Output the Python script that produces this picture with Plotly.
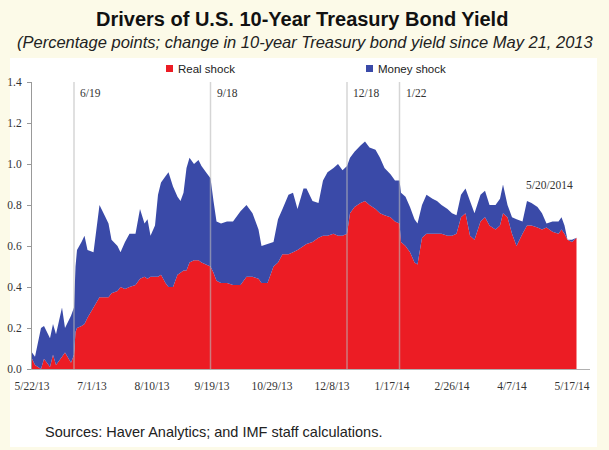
import plotly.graph_objects as go

# ---- data ----
dates = [
    "2013-05-22", "2013-05-24", "2013-05-28", "2013-05-30", "2013-06-03", "2013-06-05",
    "2013-06-07", "2013-06-11", "2013-06-13", "2013-06-17", "2013-06-19", "2013-06-20",
    "2013-06-21", "2013-06-24", "2013-06-26", "2013-06-28", "2013-07-02", "2013-07-06",
    "2013-07-10", "2013-07-12", "2013-07-14", "2013-07-18", "2013-07-20", "2013-07-23",
    "2013-07-26", "2013-07-30", "2013-08-02", "2013-08-05", "2013-08-07", "2013-08-09",
    "2013-08-12", "2013-08-14", "2013-08-16", "2013-08-19", "2013-08-21", "2013-08-24",
    "2013-08-27", "2013-08-29", "2013-08-31", "2013-09-02", "2013-09-04", "2013-09-07",
    "2013-09-10", "2013-09-12", "2013-09-15", "2013-09-18", "2013-09-20", "2013-09-22",
    "2013-09-25", "2013-09-29", "2013-10-03", "2013-10-08", "2013-10-12", "2013-10-16",
    "2013-10-20", "2013-10-22", "2013-10-26", "2013-10-30", "2013-11-02", "2013-11-05",
    "2013-11-09", "2013-11-12", "2013-11-15", "2013-11-19", "2013-11-21", "2013-11-25",
    "2013-11-29", "2013-12-02", "2013-12-05", "2013-12-09", "2013-12-12", "2013-12-15",
    "2013-12-18", "2013-12-20", "2013-12-23", "2013-12-27", "2013-12-30", "2014-01-02",
    "2014-01-06", "2014-01-09", "2014-01-12", "2014-01-16", "2014-01-19", "2014-01-22",
    "2014-01-23", "2014-01-26", "2014-01-29", "2014-02-01", "2014-02-03", "2014-02-06",
    "2014-02-09", "2014-02-13", "2014-02-16", "2014-02-19", "2014-02-23", "2014-02-26",
    "2014-03-01", "2014-03-04", "2014-03-07", "2014-03-10", "2014-03-13", "2014-03-17",
    "2014-03-20", "2014-03-23", "2014-03-27", "2014-03-30", "2014-04-01", "2014-04-04",
    "2014-04-07", "2014-04-10", "2014-04-14", "2014-04-17", "2014-04-20", "2014-04-24",
    "2014-04-27", "2014-04-30", "2014-05-04", "2014-05-08", "2014-05-10", "2014-05-12",
    "2014-05-14", "2014-05-17", "2014-05-20",
]

real_shock = [
    0.05, 0.02, 0.00, 0.05, 0.01, 0.07,
    0.02, 0.06, 0.08, 0.03, 0.07, 0.18,
    0.20, 0.21, 0.22, 0.25, 0.30, 0.35,
    0.35, 0.35, 0.37, 0.38, 0.40, 0.39,
    0.40, 0.41, 0.44, 0.45, 0.44, 0.45,
    0.45, 0.45, 0.46, 0.42, 0.40, 0.40,
    0.46, 0.47, 0.48, 0.48, 0.52, 0.53,
    0.53, 0.52, 0.51, 0.50, 0.47, 0.43,
    0.42, 0.42, 0.41, 0.41, 0.45, 0.45,
    0.44, 0.42, 0.42, 0.50, 0.52, 0.56,
    0.56, 0.57, 0.58, 0.60, 0.61, 0.62,
    0.64, 0.65, 0.65, 0.66, 0.65, 0.65,
    0.66, 0.76, 0.79, 0.81, 0.82, 0.80,
    0.78, 0.76, 0.75, 0.74, 0.72, 0.71,
    0.62, 0.60, 0.57, 0.52, 0.51, 0.64,
    0.66, 0.66, 0.66, 0.66, 0.65, 0.65,
    0.66, 0.74, 0.76, 0.65, 0.63, 0.72,
    0.74, 0.70, 0.68, 0.70, 0.76, 0.74,
    0.66, 0.60, 0.66, 0.70, 0.70, 0.69,
    0.68, 0.69, 0.67, 0.66, 0.68, 0.66,
    0.63, 0.62, 0.64,
]

money_shock = [
    0.03, 0.04, 0.20, 0.16, 0.14, 0.15,
    0.15, 0.24, 0.12, 0.23, 0.23, 0.32,
    0.38, 0.41, 0.43, 0.33, 0.27, 0.45,
    0.39, 0.36, 0.26, 0.22, 0.17, 0.23,
    0.26, 0.25, 0.34, 0.26, 0.29, 0.20,
    0.25, 0.40, 0.45, 0.52, 0.56, 0.49,
    0.38, 0.35, 0.38, 0.50, 0.51, 0.47,
    0.49, 0.47, 0.45, 0.43, 0.35, 0.29,
    0.29, 0.30, 0.31, 0.36, 0.35, 0.31,
    0.24, 0.18, 0.19, 0.12, 0.21, 0.22,
    0.29, 0.29, 0.20, 0.28, 0.27, 0.20,
    0.17, 0.27, 0.31, 0.32, 0.35, 0.32,
    0.33, 0.27, 0.27, 0.28, 0.29, 0.28,
    0.29, 0.27, 0.23, 0.21, 0.20, 0.21,
    0.24, 0.24, 0.22, 0.21, 0.20, 0.16,
    0.19, 0.17, 0.16, 0.14, 0.13, 0.11,
    0.09, 0.11, 0.12, 0.17, 0.13, 0.13,
    0.13, 0.10, 0.12, 0.13, 0.14, 0.06,
    0.08, 0.13, 0.06, 0.12, 0.11, 0.10,
    0.08, 0.02, 0.05, 0.06, 0.06, 0.04,
    0.00, 0.01, 0.00,
]

tick_dates = ["2013-05-22", "2013-07-01", "2013-08-10", "2013-09-19", "2013-10-29",
              "2013-12-08", "2014-01-17", "2014-02-26", "2014-04-07", "2014-05-17"]
tick_labels = ["5/22/13", "7/1/13", "8/10/13", "9/19/13", "10/29/13",
               "12/8/13", "1/17/14", "2/26/14", "4/7/14", "5/17/14"]

event_dates = ["2013-06-19", "2013-09-18", "2013-12-18", "2014-01-22"]
event_labels = ["6/19", "9/18", "12/18", "1/22"]

RED = "#ec1c24"
BLUE = "#3a4aa8"
SANS = "Liberation Sans, Arial, sans-serif"
SERIF = "Liberation Serif, Times New Roman, serif"

fig = go.Figure()
fig.add_trace(go.Scatter(x=dates, y=real_shock, name="Real shock", stackgroup="one",
                         mode="none", fillcolor=RED, showlegend=False))
fig.add_trace(go.Scatter(x=dates, y=money_shock, name="Money shock", stackgroup="one",
                         mode="none", fillcolor=BLUE, showlegend=False))

# plot-area geometry (pixels) for paper-coordinate conversion
L, R, T, B = 32, 590, 82, 369
def px(x):
    return (x - L) / (R - L)
def py(y):
    return (B - y) / (B - T)

shapes = [
    dict(type="rect", xref="paper", yref="paper", x0=px(10), x1=px(597), y0=py(447), y1=py(58),
         fillcolor="white", line=dict(width=0), layer="below"),
]
for d in event_dates:
    shapes.append(dict(type="line", xref="x", yref="y", x0=d, x1=d, y0=0, y1=1.4,
                       line=dict(color="rgba(185,185,185,0.6)", width=1.5), layer="above"))
# legend squares
shapes.append(dict(type="rect", xref="paper", yref="paper", x0=px(166), x1=px(173),
                   y0=py(72), y1=py(65), fillcolor=RED, line=dict(width=0)))
shapes.append(dict(type="rect", xref="paper", yref="paper", x0=px(366), x1=px(373),
                   y0=py(72), y1=py(65), fillcolor=BLUE, line=dict(width=0)))

annotations = [
    dict(text="<b>Drivers of U.S. 10-Year Treasury Bond Yield</b>", xref="paper", yref="paper",
         x=px(302), y=py(19), showarrow=False, xanchor="center", yanchor="middle",
         font=dict(family=SANS, size=20, color="#111")),
    dict(text="<i>(Percentage points; change in 10-year Treasury bond yield since May 21, 2013</i>",
         xref="paper", yref="paper", x=px(305), y=py(42), showarrow=False,
         xanchor="center", yanchor="middle", font=dict(family=SANS, size=16.5, color="#222")),
    dict(text="Sources: Haver Analytics; and IMF staff calculations.", xref="paper", yref="paper",
         x=px(43), y=py(432), showarrow=False, xanchor="left", yanchor="middle",
         font=dict(family=SANS, size=14.5, color="#222")),
    dict(text="Real shock", xref="paper", yref="paper", x=px(176), y=py(68.5), showarrow=False,
         xanchor="left", yanchor="middle", font=dict(family=SANS, size=11.5, color="#222")),
    dict(text="Money shock", xref="paper", yref="paper", x=px(376), y=py(68.5), showarrow=False,
         xanchor="left", yanchor="middle", font=dict(family=SANS, size=11.5, color="#222")),
    dict(text="5/20/2014", xref="x", yref="y", x="2014-05-02", y=0.9, showarrow=False,
         xanchor="center", yanchor="middle", font=dict(family=SERIF, size=11.5, color="#333")),
]
for d, lab in zip(event_dates, event_labels):
    annotations.append(dict(text=lab, xref="x", yref="y", x=d, y=1.345, showarrow=False,
                            xanchor="left", yanchor="middle", xshift=4,
                            font=dict(family=SERIF, size=11.5, color="#333")))

fig.update_layout(
    width=609, height=450,
    margin=dict(l=L, r=609 - R, t=T, b=450 - B),
    paper_bgcolor="#fcfae8", plot_bgcolor="white",
    showlegend=False,
    shapes=shapes, annotations=annotations,
    xaxis=dict(type="date", range=["2013-05-22", "2014-05-29"], tickvals=tick_dates,
               ticktext=tick_labels, showgrid=False, zeroline=False, showline=True,
               linecolor="#b0b0b0", ticks="outside", ticklen=6, tickcolor="rgba(0,0,0,0)",
               automargin=False,
               tickfont=dict(family=SERIF, size=11.5, color="#333")),
    yaxis=dict(range=[0, 1.4], dtick=0.2, tickformat=".1f", showgrid=False, zeroline=False,
               showline=True, linecolor="#999", ticks="outside", ticklen=4, tickcolor="#999",
               ticklabelstandoff=3, automargin=False,
               tickfont=dict(family=SERIF, size=11.5, color="#333")),
)

fig.write_html("out.html")
